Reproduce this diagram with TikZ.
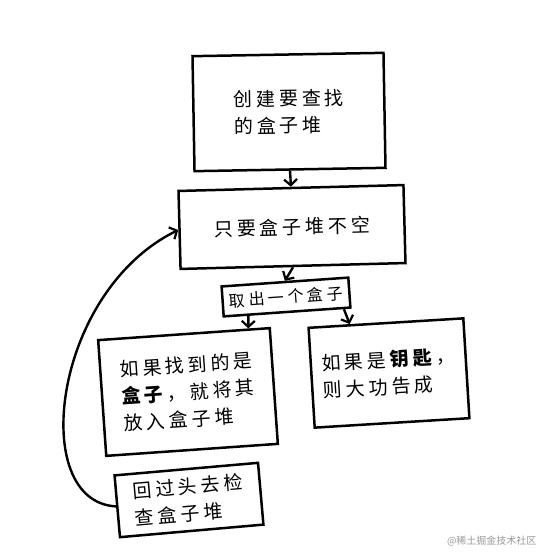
\documentclass[tikz,border=0pt]{standalone}
\usepackage{fontspec}
\setmainfont{Noto Sans CJK SC}
\usetikzlibrary{arrows.meta,calc}
\begin{document}
\begin{tikzpicture}[x=1pt,y=-1pt,
  box/.style={draw,line width=2.5pt,inner sep=0pt,align=left,
    font=\fontsize{19}{27}\selectfont\addfontfeature{LetterSpace=20}},
  arr/.style={line width=2.4pt,-{Straight Barb[length=6pt,width=13pt,line width=2.2pt]}},
  wmark/.style={font=\fontsize{10}{12}\selectfont,text=black!40}]
\useasboundingbox[fill=white] (0,0) rectangle (542,552);
\node[box,minimum width=191pt,minimum height=115pt,rotate=1] (b1) at (289,112) {创建要查找\\的盒子堆};
\node[box,minimum width=225pt,minimum height=78pt,rotate=1.5] (b2) at (292,227) {只要盒子堆不空};
\node[box,minimum width=127pt,minimum height=30pt,rotate=4,
  font=\fontsize{16}{20}\selectfont\addfontfeature{LetterSpace=22}] (b3) at (286,297) {取出一个盒子};
\node[box,minimum width=172pt,minimum height=116pt,rotate=4] (b4) at (188,392) {如果找到的是\\\textbf{盒子}，就将其\\放入盒子堆};
\node[box,minimum width=155pt,minimum height=100pt,rotate=3.5] (b5) at (389,373) {如果是\textbf{钥匙}，\\则大功告成};
\node[box,minimum width=144pt,minimum height=62pt,rotate=5] (b6) at (189,500) {回过头去检\\查盒子堆};
\node[wmark,anchor=south east] (wm) at (540,550) {@稀土掘金技术社区};
\draw[arr] (b1.south) -- (b2.north);
\draw[arr] (b2.south) -- (b3.north);
\draw[arr] ($(b3.south west)!0.2!(b3.south east)$) -- ($(b4.north west)!0.87!(b4.north east)$);
\draw[arr] ($(b3.south west)!0.94!(b3.south east)$) -- ($(b5.north west)!0.27!(b5.north east)$);
\draw[arr] (b6.west) .. controls (28,502) and (52,292) .. (b2.west);
\end{tikzpicture}
\end{document}
